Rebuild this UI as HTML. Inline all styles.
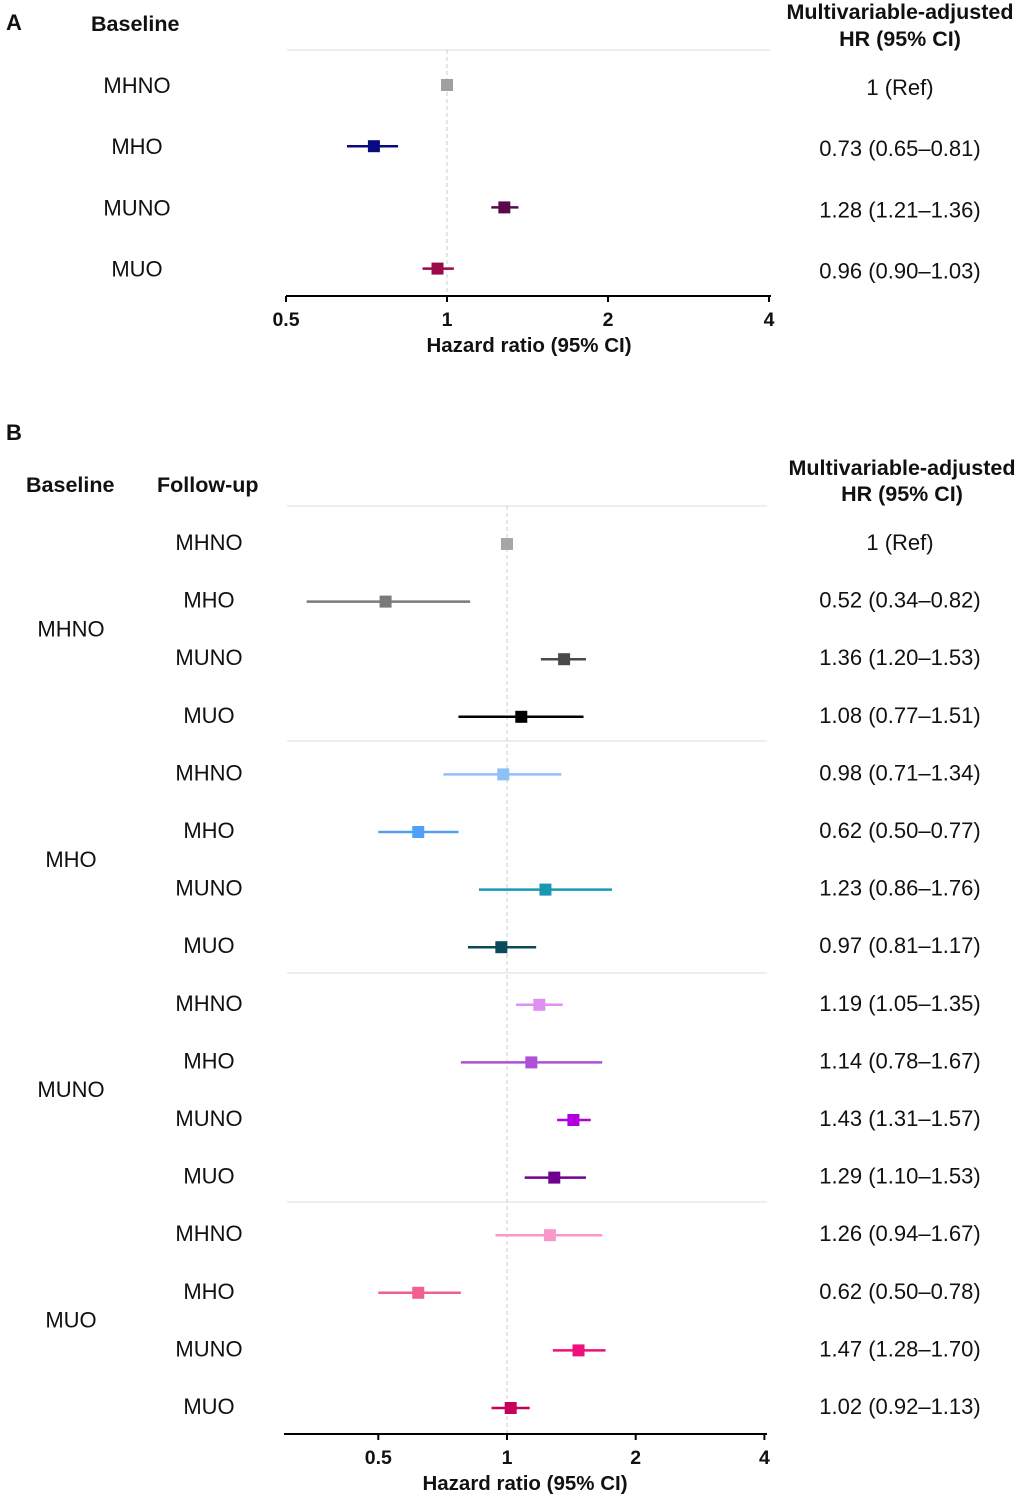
<!DOCTYPE html>
<html><head><meta charset="utf-8"><style>
body{margin:0;background:#fff}
svg text{font-family:"Liberation Sans",Arial,sans-serif;fill:#111}
</style></head><body>
<svg id="s" width="1020" height="1496" xmlns="http://www.w3.org/2000/svg">
<g font-weight="bold" font-size="22">
<text x="6" y="30">A</text>
<text x="6" y="440">B</text>
</g>
<g font-weight="bold" font-size="21.5">
<text x="91" y="31">Baseline</text>
<text x="900" y="19" text-anchor="middle">Multivariable-adjusted</text>
<text x="900" y="46" text-anchor="middle">HR (95% CI)</text>
<text x="26" y="492">Baseline</text>
<text x="157" y="492">Follow-up</text>
<text x="902" y="475" text-anchor="middle">Multivariable-adjusted</text>
<text x="902" y="501" text-anchor="middle">HR (95% CI)</text>
</g>
<g id="ga"></g><g id="gb"></g>
</svg>
<script>
const aLabels=["MHNO","MHO","MUNO","MUO"];
const aHR=[1,0.73,1.28,0.96];
const aLo=[1,0.65,1.21,0.90];
const aHi=[1,0.81,1.36,1.03];
const aText=["1 (Ref)","0.73 (0.65–0.81)","1.28 (1.21–1.36)","0.96 (0.90–1.03)"];
const aColors=["#a0a0a0","#0a0a80","#5a0a4a","#9a0a4a"];
const aTicks=[0.5,1,2,4];
const bBase=["MHNO","MHO","MUNO","MUO"];
const bLabels=["MHNO","MHO","MUNO","MUO","MHNO","MHO","MUNO","MUO","MHNO","MHO","MUNO","MUO","MHNO","MHO","MUNO","MUO"];
const bHR=[1,0.52,1.36,1.08,0.98,0.62,1.23,0.97,1.19,1.14,1.43,1.29,1.26,0.62,1.47,1.02];
const bLo=[1,0.34,1.20,0.77,0.71,0.50,0.86,0.81,1.05,0.78,1.31,1.10,0.94,0.50,1.28,0.92];
const bHi=[1,0.82,1.53,1.51,1.34,0.77,1.76,1.17,1.35,1.67,1.57,1.53,1.67,0.78,1.70,1.13];
const bText=["1 (Ref)","0.52 (0.34–0.82)","1.36 (1.20–1.53)","1.08 (0.77–1.51)","0.98 (0.71–1.34)","0.62 (0.50–0.77)","1.23 (0.86–1.76)","0.97 (0.81–1.17)","1.19 (1.05–1.35)","1.14 (0.78–1.67)","1.43 (1.31–1.57)","1.29 (1.10–1.53)","1.26 (0.94–1.67)","0.62 (0.50–0.78)","1.47 (1.28–1.70)","1.02 (0.92–1.13)"];
const bColors=["#a6a6a6","#7a7a7a","#4a4a4a","#000000","#90c0f8","#50a0f8","#1898b0","#0a4a5a","#e090f0","#b050d8","#b000e0","#700090","#f898c8","#f06090","#f0107a","#c8005a"];
const bTicks=[0.5,1,2,4];
const NS="http://www.w3.org/2000/svg";
function el(p,t,a){const e=document.createElementNS(NS,t);for(const k in a)e.setAttribute(k,a[k]);p.appendChild(e);return e;}
function xA(v){return 447+Math.log2(v)*161;}
function xB(v){return 507+Math.log2(v)*128.7;}
function yA(i){return 85+i*61.2;}
function yB(i){return 544+i*57.6;}
const ga=document.getElementById('ga'), gb=document.getElementById('gb');
let l=el(ga,'line',{x1:287,x2:770,y1:50,y2:50,stroke:'#ddd'});


l=el(ga,'line',{x1:xA(1),x2:xA(1),y1:50,y2:296,stroke:'#ccc','stroke-dasharray':'4,3'});


l=el(ga,'line',{x1:286,x2:771,y1:296,y2:296,stroke:'#000','stroke-width':2});


aTicks.forEach(t=>{
 let k=el(ga,'line',{x1:xA(t),x2:xA(t),y1:296,y2:302,stroke:'#000','stroke-width':2});
 
 
 let tx=el(ga,'text',{x:xA(t),y:326,'text-anchor':'middle','font-size':19.5,'font-weight':'bold'});tx.textContent=t;
 
 
});
let at=el(ga,'text',{x:529,y:352,'text-anchor':'middle','font-size':20.5,'font-weight':'bold'});at.textContent='Hazard ratio (95% CI)';


aLabels.forEach((n,i)=>{
 const y=yA(i);
 let t=el(ga,'text',{x:137,y:y+8,'text-anchor':'middle','font-size':22});t.textContent=n;
 
 
 if(aLo[i]!==aHi[i]){let c=el(ga,'line',{x1:xA(aLo[i]),x2:xA(aHi[i]),y1:y,y2:y,stroke:aColors[i],'stroke-width':2.5});
 
 }
 let r=el(ga,'rect',{x:xA(aHR[i])-6,y:y-6,width:12,height:12,fill:aColors[i]});
 
 
 let v=el(ga,'text',{x:900,y:y+10,'text-anchor':'middle','font-size':22});v.textContent=aText[i];
 
 
});
[506,741,973,1202].forEach((y,j)=>{let r=el(gb,'line',{x1:287,x2:767,y1:y,y2:y,stroke:'#ddd'});
 
 });
l=el(gb,'line',{x1:xB(1),x2:xB(1),y1:506,y2:1434,stroke:'#ccc','stroke-dasharray':'4,3'});


l=el(gb,'line',{x1:284,x2:767,y1:1434,y2:1434,stroke:'#000','stroke-width':2});


bTicks.forEach(t=>{
 let k=el(gb,'line',{x1:xB(t),x2:xB(t),y1:1434,y2:1440,stroke:'#000','stroke-width':2});
 
 
 let tx=el(gb,'text',{x:xB(t),y:1464,'text-anchor':'middle','font-size':19.5,'font-weight':'bold'});tx.textContent=t;
 
 
});
let bt=el(gb,'text',{x:525,y:1490,'text-anchor':'middle','font-size':20.5,'font-weight':'bold'});bt.textContent='Hazard ratio (95% CI)';


bBase.forEach((n,g)=>{
 let t=el(gb,'text',{x:71,y:(yB(g*4)+yB(g*4+3))/2+6,'text-anchor':'middle','font-size':22});t.textContent=n;
 
 
});
bLabels.forEach((n,i)=>{
 const y=yB(i);
 let t=el(gb,'text',{x:209,y:y+6,'text-anchor':'middle','font-size':22});t.textContent=n;
 
 
 if(bLo[i]!==bHi[i]){let c=el(gb,'line',{x1:xB(bLo[i]),x2:xB(bHi[i]),y1:y,y2:y,stroke:bColors[i],'stroke-width':2.5});
 
 }
 let r=el(gb,'rect',{x:xB(bHR[i])-6,y:y-6,width:12,height:12,fill:bColors[i]});
 
 
 let v=el(gb,'text',{x:900,y:y+6,'text-anchor':'middle','font-size':22});v.textContent=bText[i];
 
 
});
</script>
</body></html>
